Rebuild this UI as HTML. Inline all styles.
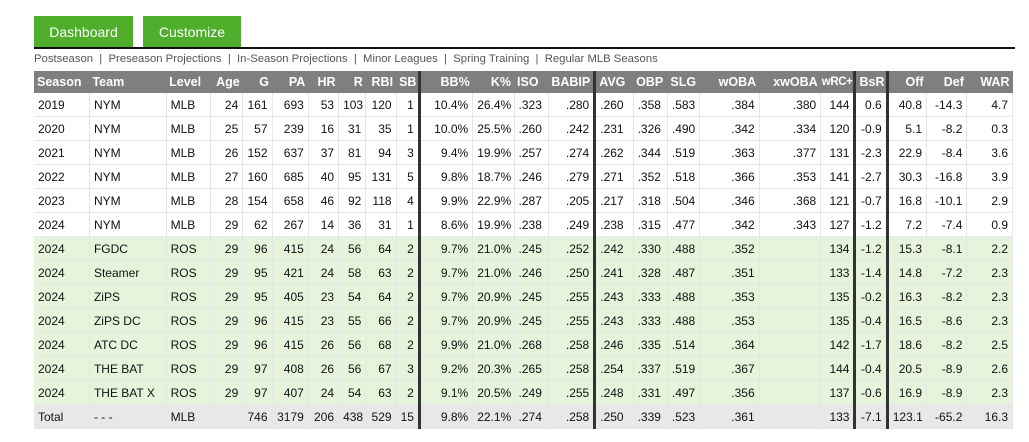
<!DOCTYPE html>
<html><head><meta charset="utf-8"><style>
body{margin:0;background:#fff;font-family:"Liberation Sans",sans-serif;width:1029px;height:442px;overflow:hidden;position:relative}
.btn{position:absolute;top:16px;height:31px;background:#4fae2b;color:#fff;font-size:14px;line-height:33px;text-align:center}
.bar{position:absolute;left:34px;top:47px;width:981px;height:2px;background:#111}
.nav{position:absolute;left:34px;top:53px;font-size:11.3px;color:#555;white-space:pre}
table{position:absolute;left:34px;top:71px;width:979px;border-collapse:collapse;table-layout:fixed;font-size:12px}
th{background:#7f7f7f;color:#fff;font-weight:bold;height:22px;padding:0 3px;font-size:12.5px;white-space:nowrap;overflow:hidden}
td{height:23px;padding:0 4px;border-right:1px solid #e6e6e6;border-bottom:1px solid #e6e6e6;color:#111;white-space:nowrap;overflow:hidden}
th,td{text-align:right}
.l{text-align:left}
.tk{border-right:3px solid #333!important}
th.sm{padding:0 1px;font-size:11.5px;letter-spacing:-0.4px}
tr.g td{background:#e5f4da}
tr.t td{background:#e8e8e8}
</style></head><body>
<div class="btn" style="left:34px;width:99px">Dashboard</div>
<div class="btn" style="left:143px;width:98px">Customize</div>
<div class="bar"></div>
<div class="nav">Postseason  |  Preseason Projections  |  In-Season Projections  |  Minor Leagues  |  Spring Training  |  Regular MLB Seasons</div>
<table>
<colgroup><col style="width:55px"><col style="width:76px"><col style="width:44px"><col style="width:32px"><col style="width:29px"><col style="width:36px"><col style="width:30px"><col style="width:27px"><col style="width:30px"><col style="width:23px"><col style="width:53px"><col style="width:41px"><col style="width:34px"><col style="width:46px"><col style="width:38px"><col style="width:34px"><col style="width:32px"><col style="width:59px"><col style="width:61px"><col style="width:34px"><col style="width:32px"><col style="width:39px"><col style="width:40px"><col style="width:45px"></colgroup>
<tr><th class="l">Season</th><th class="l">Team</th><th class="l">Level</th><th>Age</th><th>G</th><th>PA</th><th>HR</th><th>R</th><th>RBI</th><th class="tk">SB</th><th>BB%</th><th>K%</th><th class="l">ISO</th><th class="tk">BABIP</th><th class="l">AVG</th><th class="l">OBP</th><th class="l">SLG</th><th>wOBA</th><th>xwOBA</th><th class="tk sm">wRC+</th><th class="tk">BsR</th><th>Off</th><th>Def</th><th>WAR</th></tr>
<tr><td class="l">2019</td><td class="l">NYM</td><td class="l">MLB</td><td>24</td><td>161</td><td>693</td><td>53</td><td>103</td><td>120</td><td class="tk">1</td><td>10.4%</td><td>26.4%</td><td class="l">.323</td><td class="tk">.280</td><td class="l">.260</td><td class="l">.358</td><td class="l">.583</td><td>.384</td><td>.380</td><td class="tk">144</td><td class="tk">0.6</td><td>40.8</td><td>-14.3</td><td>4.7</td></tr>
<tr><td class="l">2020</td><td class="l">NYM</td><td class="l">MLB</td><td>25</td><td>57</td><td>239</td><td>16</td><td>31</td><td>35</td><td class="tk">1</td><td>10.0%</td><td>25.5%</td><td class="l">.260</td><td class="tk">.242</td><td class="l">.231</td><td class="l">.326</td><td class="l">.490</td><td>.342</td><td>.334</td><td class="tk">120</td><td class="tk">-0.9</td><td>5.1</td><td>-8.2</td><td>0.3</td></tr>
<tr><td class="l">2021</td><td class="l">NYM</td><td class="l">MLB</td><td>26</td><td>152</td><td>637</td><td>37</td><td>81</td><td>94</td><td class="tk">3</td><td>9.4%</td><td>19.9%</td><td class="l">.257</td><td class="tk">.274</td><td class="l">.262</td><td class="l">.344</td><td class="l">.519</td><td>.363</td><td>.377</td><td class="tk">131</td><td class="tk">-2.3</td><td>22.9</td><td>-8.4</td><td>3.6</td></tr>
<tr><td class="l">2022</td><td class="l">NYM</td><td class="l">MLB</td><td>27</td><td>160</td><td>685</td><td>40</td><td>95</td><td>131</td><td class="tk">5</td><td>9.8%</td><td>18.7%</td><td class="l">.246</td><td class="tk">.279</td><td class="l">.271</td><td class="l">.352</td><td class="l">.518</td><td>.366</td><td>.353</td><td class="tk">141</td><td class="tk">-2.7</td><td>30.3</td><td>-16.8</td><td>3.9</td></tr>
<tr><td class="l">2023</td><td class="l">NYM</td><td class="l">MLB</td><td>28</td><td>154</td><td>658</td><td>46</td><td>92</td><td>118</td><td class="tk">4</td><td>9.9%</td><td>22.9%</td><td class="l">.287</td><td class="tk">.205</td><td class="l">.217</td><td class="l">.318</td><td class="l">.504</td><td>.346</td><td>.368</td><td class="tk">121</td><td class="tk">-0.7</td><td>16.8</td><td>-10.1</td><td>2.9</td></tr>
<tr><td class="l">2024</td><td class="l">NYM</td><td class="l">MLB</td><td>29</td><td>62</td><td>267</td><td>14</td><td>36</td><td>31</td><td class="tk">1</td><td>8.6%</td><td>19.9%</td><td class="l">.238</td><td class="tk">.249</td><td class="l">.238</td><td class="l">.315</td><td class="l">.477</td><td>.342</td><td>.343</td><td class="tk">127</td><td class="tk">-1.2</td><td>7.2</td><td>-7.4</td><td>0.9</td></tr>
<tr class="g"><td class="l">2024</td><td class="l">FGDC</td><td class="l">ROS</td><td>29</td><td>96</td><td>415</td><td>24</td><td>56</td><td>64</td><td class="tk">2</td><td>9.7%</td><td>21.0%</td><td class="l">.245</td><td class="tk">.252</td><td class="l">.242</td><td class="l">.330</td><td class="l">.488</td><td>.352</td><td></td><td class="tk">134</td><td class="tk">-1.2</td><td>15.3</td><td>-8.1</td><td>2.2</td></tr>
<tr class="g"><td class="l">2024</td><td class="l">Steamer</td><td class="l">ROS</td><td>29</td><td>95</td><td>421</td><td>24</td><td>58</td><td>63</td><td class="tk">2</td><td>9.7%</td><td>21.0%</td><td class="l">.246</td><td class="tk">.250</td><td class="l">.241</td><td class="l">.328</td><td class="l">.487</td><td>.351</td><td></td><td class="tk">133</td><td class="tk">-1.4</td><td>14.8</td><td>-7.2</td><td>2.3</td></tr>
<tr class="g"><td class="l">2024</td><td class="l">ZiPS</td><td class="l">ROS</td><td>29</td><td>95</td><td>405</td><td>23</td><td>54</td><td>64</td><td class="tk">2</td><td>9.7%</td><td>20.9%</td><td class="l">.245</td><td class="tk">.255</td><td class="l">.243</td><td class="l">.333</td><td class="l">.488</td><td>.353</td><td></td><td class="tk">135</td><td class="tk">-0.2</td><td>16.3</td><td>-8.2</td><td>2.3</td></tr>
<tr class="g"><td class="l">2024</td><td class="l">ZiPS DC</td><td class="l">ROS</td><td>29</td><td>96</td><td>415</td><td>23</td><td>55</td><td>66</td><td class="tk">2</td><td>9.7%</td><td>20.9%</td><td class="l">.245</td><td class="tk">.255</td><td class="l">.243</td><td class="l">.333</td><td class="l">.488</td><td>.353</td><td></td><td class="tk">135</td><td class="tk">-0.4</td><td>16.5</td><td>-8.6</td><td>2.3</td></tr>
<tr class="g"><td class="l">2024</td><td class="l">ATC DC</td><td class="l">ROS</td><td>29</td><td>96</td><td>415</td><td>26</td><td>56</td><td>68</td><td class="tk">2</td><td>9.9%</td><td>21.0%</td><td class="l">.268</td><td class="tk">.258</td><td class="l">.246</td><td class="l">.335</td><td class="l">.514</td><td>.364</td><td></td><td class="tk">142</td><td class="tk">-1.7</td><td>18.6</td><td>-8.2</td><td>2.5</td></tr>
<tr class="g"><td class="l">2024</td><td class="l">THE BAT</td><td class="l">ROS</td><td>29</td><td>97</td><td>408</td><td>26</td><td>56</td><td>67</td><td class="tk">3</td><td>9.2%</td><td>20.3%</td><td class="l">.265</td><td class="tk">.258</td><td class="l">.254</td><td class="l">.337</td><td class="l">.519</td><td>.367</td><td></td><td class="tk">144</td><td class="tk">-0.4</td><td>20.5</td><td>-8.9</td><td>2.6</td></tr>
<tr class="g"><td class="l">2024</td><td class="l">THE BAT X</td><td class="l">ROS</td><td>29</td><td>97</td><td>407</td><td>24</td><td>54</td><td>63</td><td class="tk">2</td><td>9.1%</td><td>20.5%</td><td class="l">.249</td><td class="tk">.255</td><td class="l">.248</td><td class="l">.331</td><td class="l">.497</td><td>.356</td><td></td><td class="tk">137</td><td class="tk">-0.6</td><td>16.9</td><td>-8.9</td><td>2.3</td></tr>
<tr class="t"><td class="l">Total</td><td class="l">- - -</td><td class="l">MLB</td><td></td><td>746</td><td>3179</td><td>206</td><td>438</td><td>529</td><td class="tk">15</td><td>9.8%</td><td>22.1%</td><td class="l">.274</td><td class="tk">.258</td><td class="l">.250</td><td class="l">.339</td><td class="l">.523</td><td>.361</td><td></td><td class="tk">133</td><td class="tk">-7.1</td><td>123.1</td><td>-65.2</td><td>16.3</td></tr>
</table>
</body></html>
